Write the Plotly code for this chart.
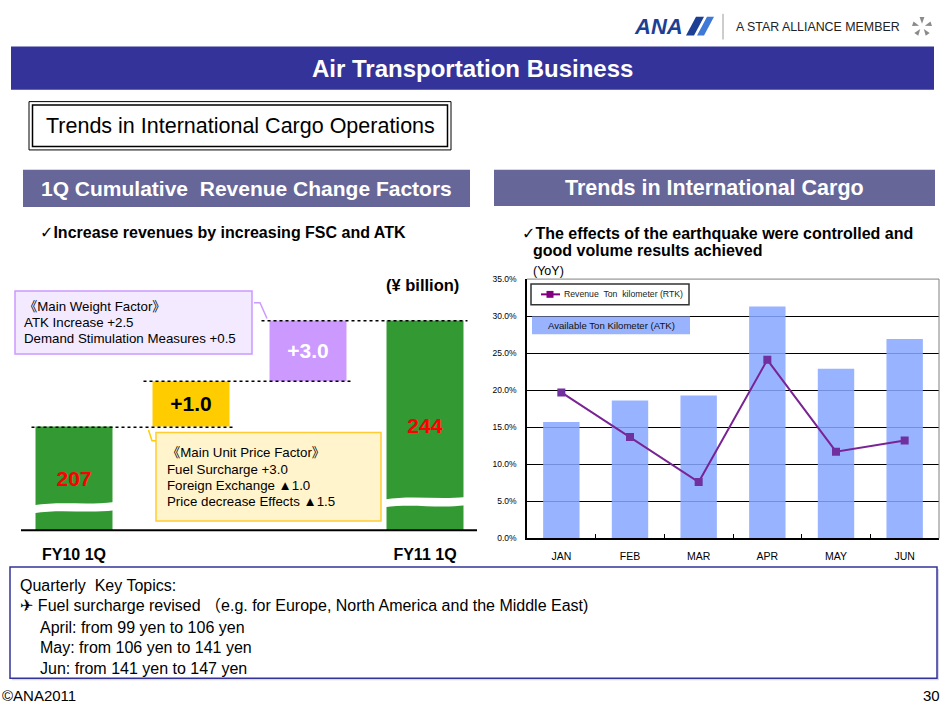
import math
import plotly.graph_objects as go

W, H = 946, 709
FONT = "Liberation Sans, Arial, DejaVu Sans, Noto Sans CJK JP, sans-serif"

# ---------------- data ----------------
months = ["JAN", "FEB", "MAR", "APR", "MAY", "JUN"]
atk_yoy = [15.7, 18.6, 19.3, 31.3, 22.9, 26.9]      # Available Ton Kilometer (bars)
rtk_yoy = [19.7, 13.7, 7.6, 24.1, 11.7, 13.2]       # Revenue Ton kilometer (line)
yoy_ticks = [0, 5, 10, 15, 20, 25, 30, 35]
yoy_ticktext = ["0.0%", "5.0%", "10.0%", "15.0%", "20.0%", "25.0%", "30.0%", "35.0%"]

wf_categories = ["FY10 1Q", "Unit Price", "Weight", "FY11 1Q"]
wf_ticktext = ["<b>FY10 1Q</b>", "", "", "<b>FY11 1Q</b>"]
wf_labels = ["207", "+1.0", "+3.0", "244"]           # ¥ billion / change
wf_base = [0, 40, 57.5, 0]                            # schematic (broken-axis) levels
wf_height = [40, 17.5, 23.5, 81]

weight_factor_lines = ["《Main Weight Factor》", "ATK Increase +2.5",
                       "Demand Stimulation Measures +0.5"]
unit_factor_lines = ["《Main Unit Price Factor》", "Fuel Surcharge +3.0",
                     "Foreign Exchange ▲1.0", "Price decrease Effects ▲1.5"]
topic_lines = ["Quarterly  Key Topics:",
               "✈ Fuel surcharge revised （e.g. for Europe, North America and the Middle East)",
               "April: from 99 yen to 106 yen",
               "May: from 106 yen to 141 yen",
               "Jun: from 141 yen to 147 yen"]


def px(x):
    return x / W


def py(y):
    return 1 - y / H


shapes = []
annotations = []


def rect(x0, y0, x1, y1, fill=None, line=None, lw=1.0, layer="below", dash=None):
    ln = dict(color=line if line else "rgba(0,0,0,0)", width=lw if line else 0)
    if dash:
        ln["dash"] = dash
    shapes.append(dict(type="rect", xref="paper", yref="paper",
                       x0=px(x0), x1=px(x1), y0=py(y1), y1=py(y0),
                       fillcolor=fill if fill else "rgba(0,0,0,0)", line=ln, layer=layer))


def seg(x0, y0, x1, y1, color="#000", lw=1.0, dash=None, layer="above"):
    ln = dict(color=color, width=lw)
    if dash:
        ln["dash"] = dash
    shapes.append(dict(type="line", xref="paper", yref="paper",
                       x0=px(x0), x1=px(x1), y0=py(y0), y1=py(y1), line=ln, layer=layer))


def path(cmds, fill=None, line=None, lw=1.0, close=True, layer="above"):
    parts = []
    for c, pts in cmds:
        if c == "L":
            for x, y in pts:
                parts.append(f"L {px(x):.5f},{py(y):.5f}")
        else:
            parts.append(c + " " + " ".join(f"{px(x):.5f},{py(y):.5f}" for x, y in pts))
    s = " ".join(parts)
    if close:
        s += " Z"
    shapes.append(dict(type="path", xref="paper", yref="paper", path=s,
                       fillcolor=fill if fill else "rgba(0,0,0,0)",
                       line=dict(color=line if line else "rgba(0,0,0,0)", width=lw if line else 0),
                       layer=layer))


def T(x, y, text, size=12, color="#000", xanchor="center"):
    annotations.append(dict(x=px(x), y=py(y), xref="paper", yref="paper", text=text,
                            showarrow=False, xanchor=xanchor, yanchor="middle",
                            font=dict(size=size, color=color, family=FONT)))


# ---------------- page header ----------------
T(658, 22, "<b><i>ANA</i></b>", 22, "#1C3E94")
path([("M", [(686, 31)]), ("L", [(696, 12), (704, 12), (694, 31)])], fill="#1C3E94")
path([("M", [(697, 31)]), ("L", [(707, 12), (714, 12), (704, 31)])], fill="#3F78D6")
seg(723, 9, 723, 35, "#9a9a9a", 1)
T(734, 22, "A STAR ALLIANCE MEMBER", 12.4, "#222", "left")
cx, cy = 922, 22
for k in range(5):
    a = math.radians(90 + 72 * k)
    b1 = a + math.radians(14)
    b2 = a - math.radians(14)
    p0 = (cx + 3 * math.cos(a), cy - 3 * math.sin(a))
    p1 = (cx + 10 * math.cos(b1), cy - 10 * math.sin(b1))
    p2 = (cx + 10 * math.cos(b2), cy - 10 * math.sin(b2))
    path([("M", [p0]), ("L", [p1, p2])], fill="#8a8a8a")

rect(11, 42, 934, 86, fill="#333399")
T(472, 64, "<b>Air Transportation Business</b>", 24, "#fff")

rect(29, 98, 451, 147, line="#000", lw=1)
rect(32.5, 101.5, 447.5, 143.5, line="#000", lw=1.5)
T(240, 123, "Trends in International Cargo Operations", 21.5, "#000")

rect(23, 167, 470, 205, fill="#666699")
T(246, 186, "<b>1Q Cumulative  Revenue Change Factors</b>", 21, "#fff")
rect(494, 167, 935, 204, fill="#666699")
T(714, 186, "<b>Trends in International Cargo</b>", 21.5, "#fff")

T(38, 231, "<b>✓Increase revenues by increasing FSC and ATK</b>", 16, "#000", "left")
T(520, 232, "<b>✓The effects of the earthquake were controlled and</b>", 16, "#000", "left")
T(531, 249.5, "<b>good volume results achieved</b>", 16, "#000", "left")

# ---------------- left: waterfall (schematic) ----------------
wf_colors = ["#339933", "#FFCC00", "#CC99FF", "#339933"]
wf_text_colors = ["#FF0000", "#000000", "#FFFFFF", "#FF0000"]
WF_X0, WF_STEP, WF_W = 15.5, 117.0, 0.658

T(422, 284, "<b>(¥ billion)</b>", 16.5, "#000")

# category centres of x2 (used only to place connector lines / breaks)
c = [WF_X0 + WF_STEP * (i + 0.5) for i in range(4)]
hw = WF_W * WF_STEP / 2
# dotted connector lines
seg(c[0] - hw - 4, 428.3, c[1] + hw + 4, 428.3, "#000", 1.6, "dot")
seg(c[1] - hw - 9, 381.7, c[2] + hw + 4, 381.7, "#000", 1.6, "dot")
seg(c[2] - hw - 8, 320.2, c[3] + hw + 4, 320.2, "#000", 1.6, "dot")
# broken-bar wave gaps
x0, x1 = c[0] - hw - 2, c[0] + hw + 2
path([("M", [(x0, 507.5)]), ("C", [(x0 + 28, 503), (x1 - 28, 508), (x1, 504)]),
      ("L", [(x1, 512.5)]), ("C", [(x1 - 28, 516), (x0 + 28, 511), (x0, 515.5)])], fill="#fff")
x0, x1 = c[3] - hw - 2, c[3] + hw + 2
path([("M", [(x0, 501.5)]), ("C", [(x0 + 28, 497), (x1 - 28, 502), (x1, 499)]),
      ("L", [(x1, 507.5)]), ("C", [(x1 - 28, 511), (x0 + 28, 505.5), (x0, 509.5)])], fill="#fff")
# baseline
seg(21, 532.7, 477, 532.7, "#000", 2)

# callout: weight factor
rect(15, 290, 252, 354, fill="#F3EAFF", line="#CC99FF", lw=1.5, layer="above")
for i, t in enumerate(weight_factor_lines):
    T(22, 306 + 16.2 * i, t, 13.3, "#000", "left")
path([("M", [(254, 302)]), ("L", [(260, 302), (267, 318)])], line="#CC99FF", lw=1.5, close=False)

# callout: unit price factor
rect(156, 433.5, 381, 523.5, fill="#FFF4CC", line="#FFCC33", lw=1.5, layer="above")
for i, t in enumerate(unit_factor_lines):
    T(165, 454.3 + 16.4 * i, t, 13.3, "#000", "left")
path([("M", [(148.5, 431)]), ("L", [(152, 442), (156, 442)])], line="#FFCC00", lw=1.5, close=False)

# ---------------- right: legend + frame ----------------
rect(531, 283, 689, 304, fill="#fff", line="#333", lw=1.5, layer="above")
seg(541, 293.5, 560, 293.5, "#800080", 2)
rect(546.5, 290, 553.5, 297, fill="#800080", layer="above")
T(562, 293.5, "Revenue  Ton  kilometer (RTK)", 8.7, "#222", "left")
rect(532, 316, 690, 334, fill="#99B3FF", layer="above")
T(611, 325, "Available Ton Kilometer (ATK)", 9.6, "#111")
T(531, 270, "(YoY)", 12.5, "#000", "left")
seg(939, 278, 939, 541, "#808080", 1)
seg(527, 278, 939, 278, "#808080", 1)

# bottom box
rect(12, 572, 939, 685, fill="#d8d8e8", layer="below")
rect(10, 570, 937, 683, fill="#fff", line="#333399", lw=1.5)
ys = [589, 609.5, 631, 652, 673]
xs = [18, 18, 38, 38, 38]
for t, x, y in zip(topic_lines, xs, ys):
    T(x, y, t, 16, "#000", "left")

T(0, 700, "©ANA2011", 15, "#000", "left")
T(942, 700, "30", 15, "#000", "right")

# ---------------- traces ----------------
fig = go.Figure()
fig.add_trace(go.Bar(x=months, y=atk_yoy, xaxis="x", yaxis="y", width=0.53,
                     marker=dict(color="rgba(135,166,255,0.86)", line=dict(width=0)),
                     hoverinfo="skip", name="Available Ton Kilometer (ATK)"))
fig.add_trace(go.Scatter(x=months, y=rtk_yoy, xaxis="x", yaxis="y", mode="lines+markers",
                         line=dict(color="#7A2494", width=2),
                         marker=dict(symbol="square", size=8, color="#7030A0"),
                         name="Revenue Ton kilometer (RTK)"))
fig.add_trace(go.Bar(x=wf_categories, y=wf_height, base=wf_base, xaxis="x2", yaxis="y2",
                     width=WF_W, marker=dict(color=wf_colors, line=dict(width=0)),
                     text=wf_labels, texttemplate="<b>%{text}</b>", textposition="inside",
                     insidetextanchor="middle", textangle=0, constraintext="none",
                     textfont=dict(size=21, color=wf_text_colors, family=FONT),
                     hoverinfo="skip"))

fig.update_layout(
    width=W, height=H, margin=dict(l=0, r=0, t=0, b=0),
    paper_bgcolor="#fff", plot_bgcolor="rgba(0,0,0,0)", showlegend=False,
    font=dict(family=FONT),
    xaxis=dict(domain=[px(527), px(939)], type="category", showline=True, linecolor="#000",
               linewidth=2, ticks="inside", tickson="boundaries", ticklen=4, tickcolor="#000",
               tickfont=dict(size=10.5, color="#000"), showgrid=False, ticklabelstandoff=7,
               fixedrange=True),
    yaxis=dict(domain=[py(541), py(278)], range=[0, 35], tickvals=yoy_ticks,
               ticktext=yoy_ticktext, showgrid=True, gridcolor="#000",
               gridwidth=1, showline=True, linecolor="#000", linewidth=1.5, zeroline=False,
               tickfont=dict(size=8.5, color="#000"), ticklabelstandoff=7, fixedrange=True),
    xaxis2=dict(domain=[px(WF_X0), px(WF_X0 + 4 * WF_STEP)], type="category", anchor="y2",
                showline=False, showgrid=False, tickvals=wf_categories, ticktext=wf_ticktext,
                tickfont=dict(size=16, color="#000"), ticks="", ticklabelstandoff=13),
    yaxis2=dict(domain=[py(532.7), py(270)], range=[0, 100], anchor="x2", visible=False),
    shapes=shapes, annotations=annotations,
)

fig.write_html("out.html", config={"displayModeBar": False},
               post_script="document.body.style.margin='0';document.body.style.padding='0';"
                           "document.body.style.overflow='hidden';")
